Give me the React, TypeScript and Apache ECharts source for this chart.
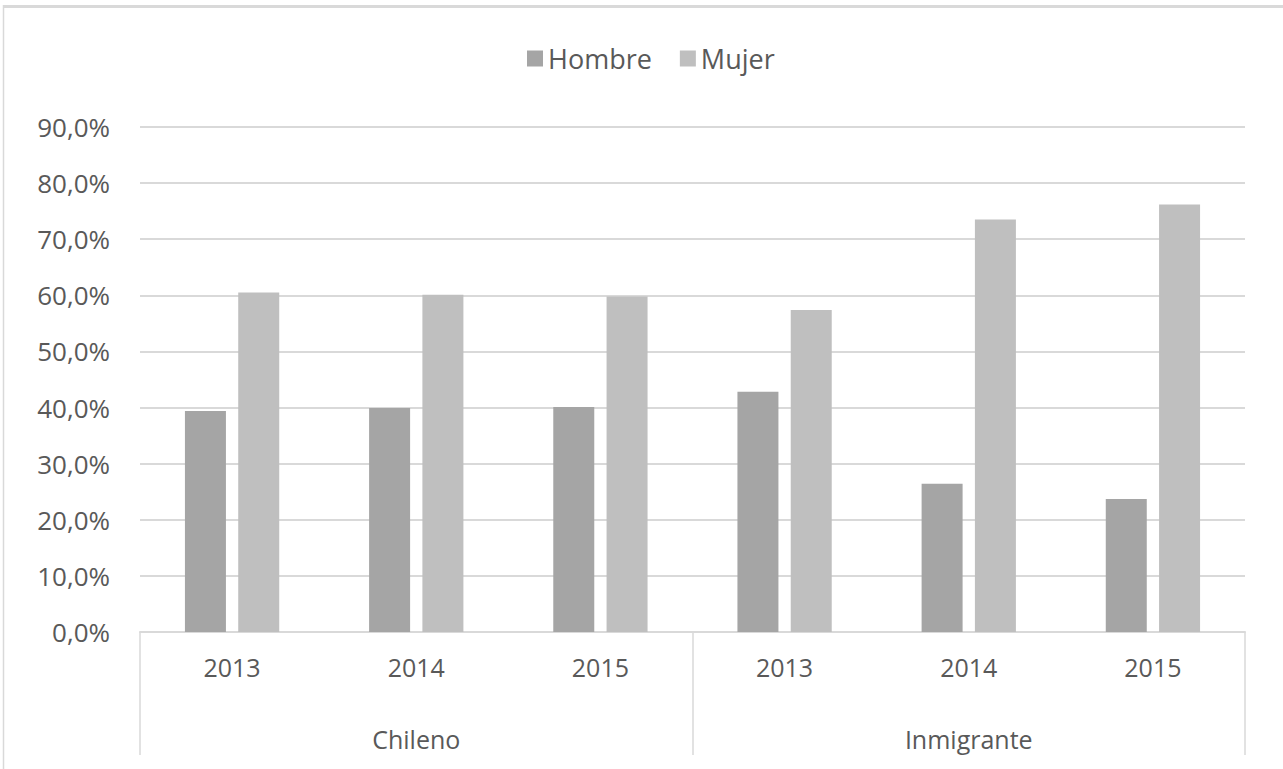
import React, { useEffect, useRef } from "react";
import * as echarts from "echarts";

const years = ["2013", "2014", "2015", "2013", "2014", "2015"];
const groups = ["Chileno", "Inmigrante"];
const hombre = [39.4, 39.9, 40.1, 42.8, 26.4, 23.7];
const mujer = [60.5, 60.1, 59.8, 57.4, 73.5, 76.2];
const seriesNames = ["Hombre", "Mujer"];

const FONT = "Open Sans";
const TXT = "#595959";

export default function App() {
  const ref = useRef<HTMLDivElement>(null);
  useEffect(() => {
    const chart = echarts.init(ref.current!, undefined, { renderer: "svg" });
    chart.setOption({
      animation: false,
      backgroundColor: "#ffffff",
      textStyle: { fontFamily: FONT },
      legend: {
        top: 40,
        left: 522,
        itemWidth: 16,
        itemHeight: 16,
        itemGap: 28,
        icon: "rect",
        textStyle: { color: TXT, fontSize: 27, fontFamily: FONT },
        data: seriesNames,
      },
      grid: { left: 140, right: 38, top: 127, bottom: 137 },
      xAxis: [
        {
          type: "category",
          data: years,
          position: "bottom",
          axisLine: { lineStyle: { color: "#d9d9d9", width: 2 } },
          axisTick: { show: false },
          axisLabel: { color: TXT, fontSize: 25, fontFamily: FONT, margin: 22 },
        },
        {
          type: "category",
          data: groups,
          position: "bottom",
          axisLine: { show: false },
          axisTick: { show: true, length: 123, lineStyle: { color: "#d9d9d9", width: 1.5 } },
          axisLabel: { color: TXT, fontSize: 25, fontFamily: FONT, margin: 94 },
        },
      ],
      yAxis: {
        type: "value",
        min: 0,
        max: 90,
        interval: 10,
        axisLine: { show: false },
        axisTick: { show: false },
        splitLine: { lineStyle: { color: "#d9d9d9", width: 2 } },
        axisLabel: {
          color: TXT,
          fontSize: 26,
          fontFamily: FONT,
          margin: 30,
          formatter: (v: number) => v.toFixed(1).replace(".", ",") + "%",
        },
      },
      series: [
        {
          name: seriesNames[0],
          type: "bar",
          data: hombre,
          barWidth: 41,
          barGap: "30%",
          itemStyle: { color: "#a5a5a5" },
        },
        {
          name: seriesNames[1],
          type: "bar",
          data: mujer,
          barWidth: 41,
          barGap: "30%",
          itemStyle: { color: "#bfbfbf" },
        },
      ],
      graphic: [
        {
          type: "line",
          shape: { x1: 3, y1: 6.5, x2: 1283, y2: 6.5 },
          style: { stroke: "#d9d9d9", lineWidth: 3 },
        },
        {
          type: "line",
          shape: { x1: 3.5, y1: 5, x2: 3.5, y2: 769 },
          style: { stroke: "#d9d9d9", lineWidth: 1.5 },
        },
      ],
    });
    return () => chart.dispose();
  }, []);
  return (
    <div
      ref={ref}
      style={{ position: "fixed", left: 0, top: 0, width: 1283, height: 769 }}
    />
  );
}
